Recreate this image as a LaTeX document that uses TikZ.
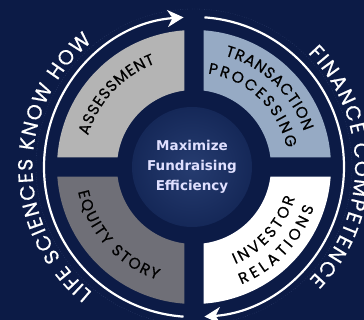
\documentclass[tikz,border=0pt]{standalone}
\usepackage{fontspec}
\usepackage{tikz}
\usetikzlibrary{arrows.meta,decorations.text}

\newfontfamily\ringfont{Poppins}[FakeBold=0.5]
\newfontfamily\hubfont{DejaVu Sans}

\definecolor{navybg}{HTML}{0C1B46}
\definecolor{hubmid}{HTML}{263C70}
\definecolor{hubedge}{HTML}{152858}
\definecolor{quadlight}{HTML}{B4B4B4}
\definecolor{quadsteel}{HTML}{96AAC4}
\definecolor{quaddark}{HTML}{6F6F77}
\definecolor{faintline}{HTML}{3B4B78}

\tikzset{
  ringarrow/.style={white, line width=2.2pt, -{Stealth[length=16pt,width=17pt,inset=5pt]}},
  ringtext/.style={decorate, decoration={text along path, text align={fit to path}, text color=white,
    text={|\ringfont\fontsize{20.5}{20.5}\selectfont|#1}}},
  quadtext/.style={decorate, decoration={text along path, text align={fit to path}, text color=black,
    text={|\ringfont\fontsize{15.5}{15.5}\selectfont|#1}}},
}

\begin{document}
\begin{tikzpicture}
        \useasboundingbox (-194pt,-153pt) rectangle (170pt,167pt);
        \fill[navybg] (-194pt,-153pt) rectangle (170pt,167pt);

        \foreach \rot/\col in {0/quadsteel, 90/quadlight, 180/quaddark, 270/white}
            \fill[\col] (\rot+82.9:77pt) -- (\rot+86:137pt)
                arc[start angle=\rot+86, end angle=\rot+4, radius=137pt] -- (\rot+7.1:77pt)
                arc[start angle=\rot+7.1, end angle=\rot+82.9, radius=77pt] -- cycle;

        \node[circle, minimum size=120pt, inner color=hubmid, outer color=hubedge, align=center,
            text=white!88!blue, font=\hubfont\bfseries\fontsize{13.5}{20}\selectfont] (hub) at (-2pt,0pt)
            {Maximize\\Fundraising\\Efficiency};

        \draw[faintline, line width=0.4pt, dotted] (0pt,0pt) circle[radius=158pt];
        \draw[ringarrow] (266:150pt) arc[start angle=266, end angle=94, radius=150pt];
        \draw[ringarrow] (86:150pt) arc[start angle=86, end angle=-86, radius=150pt];

        \path[ringtext={LIFE SCIENCES KNOW HOW}] (231:161.5pt) arc[start angle=231, end angle=129, radius=161.5pt];
        \path[ringtext={FINANCE COMPETENCE}] (45:161pt) arc[start angle=45, end angle=-44.5, radius=161pt];

        \path[quadtext={ASSESSMENT}] (163.5:110.5pt) arc[start angle=163.5, end angle=110.5, radius=110.5pt];
        \path[quadtext={TRANSACTION}] (74.5:115.5pt) arc[start angle=74.5, end angle=18, radius=115.5pt];
        \path[quadtext={PROCESSING}] (81.5:94.5pt) arc[start angle=81.5, end angle=11.5, radius=94.5pt];
        \path[quadtext={EQUITY STORY}] (192:118.5pt) arc[start angle=192, end angle=252, radius=118.5pt];
        \path[quadtext={INVESTOR}] (-67:105.5pt) arc[start angle=-67, end angle=-17, radius=105.5pt];
        \path[quadtext={RELATIONS}] (-68:126.5pt) arc[start angle=-68, end angle=-18.5, radius=126.5pt];
    \end{tikzpicture}
\end{document}
